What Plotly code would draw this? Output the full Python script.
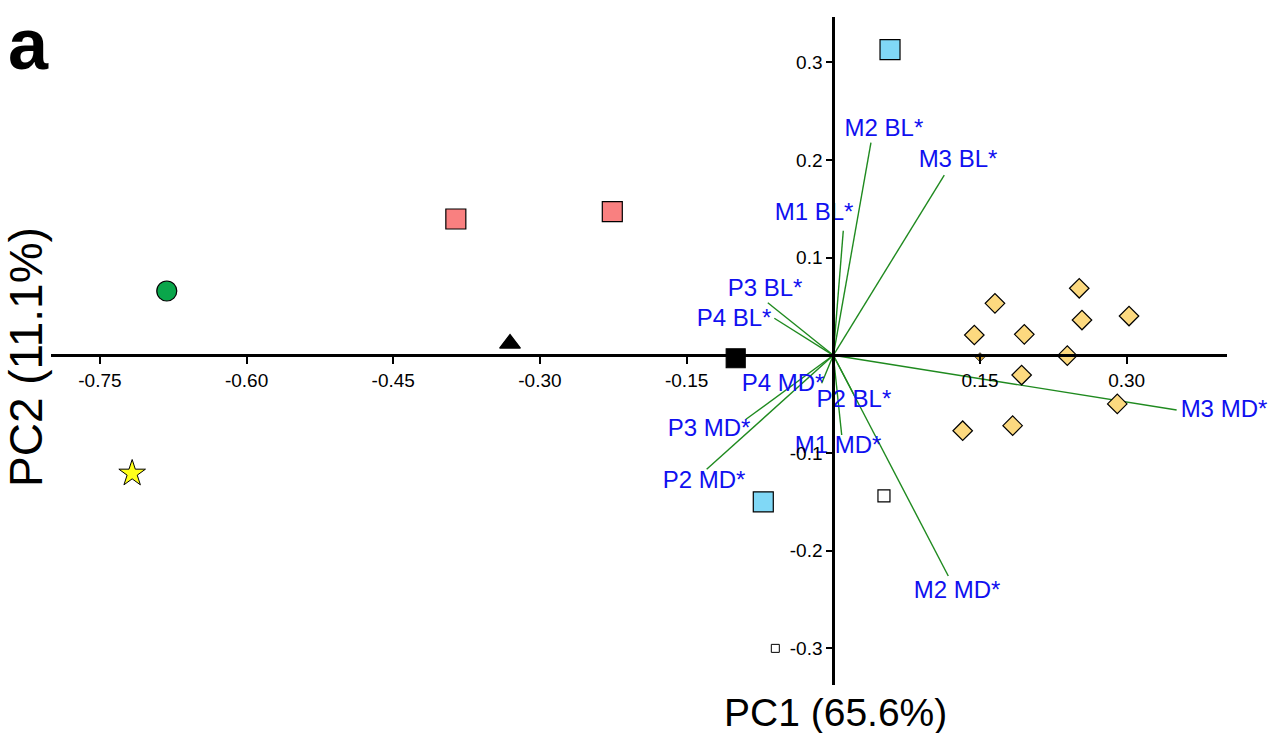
import plotly.graph_objects as go

# ---- data ----
blue_x = [0.058, -0.0716]
blue_y = [0.313, -0.150]
red_x = [-0.386, -0.226]
red_y = [0.1395, 0.147]
white_x = [0.0518]
white_y = [-0.144]
tiny_white_x = [-0.0593]
tiny_white_y = [-0.300]
tri_x = [-0.3306]
tri_y = [0.012]
black_sq_x = [-0.0998]
black_sq_y = [-0.003]
circle_x = [-0.6816]
circle_y = [0.0658]
star_x = [-0.717]
star_y = [-0.121]
diamond_x = [0.1653, 0.2515, 0.1442, 0.1953, 0.2543, 0.3024, 0.2393, 0.1926, 0.2904, 0.1323, 0.1834]
diamond_y = [0.0532, 0.0686, 0.0208, 0.0215, 0.0361, 0.0402, -0.0004, -0.0202, -0.0498, -0.0772, -0.072]
small_diamond_x = [0.150]
small_diamond_y = [-0.002]

vec_names = ["M2 BL*", "M3 BL*", "M1 BL*", "P3 BL*", "P4 BL*", "P4 MD*",
             "P2 BL*", "P3 MD*", "M1 MD*", "P2 MD*", "M2 MD*", "M3 MD*"]
vec_x = [0.0385, 0.1135, 0.0102, -0.067, -0.0603, -0.0119,
         0.0235, -0.0893, 0.0086, -0.1295, 0.1176, 0.3511]
vec_y = [0.2176, 0.1845, 0.1275, 0.0538, 0.0379, -0.0287,
         -0.045, -0.0655, -0.0816, -0.1167, -0.2259, -0.056]
label_x = [0.0518, 0.1275, -0.0197, -0.0698, -0.1015, -0.0514,
           0.0211, -0.1271, 0.0048, -0.1322, 0.1265, 0.3995]
label_y = [0.2306, 0.1989, 0.1446, 0.0668, 0.0361, -0.0304,
           -0.0468, -0.0765, -0.0939, -0.1297, -0.2423, -0.057]

x_ticks = [-0.75, -0.60, -0.45, -0.30, -0.15, 0.15, 0.30]
x_ticktext = ["-0.75", "-0.60", "-0.45", "-0.30", "-0.15", "0.15", "0.30"]
y_ticks = [0.3, 0.2, 0.1, -0.1, -0.2, -0.3]
y_ticktext = ["0.3", "0.2", "0.1", "-0.1", "-0.2", "-0.3"]

x_range = [-0.800, 0.4026]
y_range = [-0.3375, 0.3463]

FONT = "Liberation Sans, Arial, Helvetica, sans-serif"

fig = go.Figure()

# vectors
lx, ly = [], []
for xe, ye in zip(vec_x, vec_y):
    lx += [0, xe, None]
    ly += [0, ye, None]
fig.add_trace(go.Scatter(x=lx, y=ly, mode="lines",
                         line=dict(color="#1f8a1f", width=1.4),
                         hoverinfo="skip", showlegend=False))

def pts(x, y, symbol, size, color, lw=1.2):
    fig.add_trace(go.Scatter(x=x, y=y, mode="markers", showlegend=False,
                             cliponaxis=False,
                             marker=dict(symbol=symbol, size=size, color=color,
                                         line=dict(color="black", width=lw))))

pts(diamond_x, diamond_y, "diamond", 15, "#fcd97f")
pts(small_diamond_x, small_diamond_y, "diamond", 7, "#d9a941", 0.8)
pts(blue_x, blue_y, "square", 20, "#80d8f6")
pts(red_x, red_y, "square", 20, "#f98080")
pts(white_x, white_y, "square", 12, "white")
pts(tiny_white_x, tiny_white_y, "square", 8, "white", 1)
pts(tri_x, tri_y, "triangle-up", 18, "black")
pts(black_sq_x, black_sq_y, "square", 19, "black")
pts(circle_x, circle_y, "circle", 20, "#0aa64b")
pts(star_x, star_y, "star", 20, "#ffff1a", 1)

# labels
fig.add_trace(go.Scatter(x=label_x, y=label_y, mode="text", text=vec_names,
                         textposition="middle center", cliponaxis=False,
                         textfont=dict(family=FONT, size=24, color="#1010f0"),
                         hoverinfo="skip", showlegend=False))

W, H = 1269, 733
ml, mr, mt, mb = 51, 42, 17, 48
xpos = (0 - y_range[0]) / (y_range[1] - y_range[0])
ypos = (0 - x_range[0]) / (x_range[1] - x_range[0])

pw = W - ml - mr
ph = H - mt - mb
def px2paper(px, py):
    return (px - ml) / pw, ((H - mb) - py) / ph

t1x, t1y = px2paper(835, 712)
t2x, t2y = px2paper(26, 357)
t3x, t3y = px2paper(6, 2)

fig.update_layout(
    width=W, height=H,
    margin=dict(l=ml, r=mr, t=mt, b=mb, autoexpand=False),
    paper_bgcolor="white", plot_bgcolor="white",
    showlegend=False,
    xaxis=dict(range=x_range, domain=[0, 1], anchor="free", position=xpos,
               showgrid=False, zeroline=False, showline=True, automargin=False,
               linecolor="black", linewidth=3,
               ticks="outside", ticklen=7, tickwidth=2, tickcolor="black",
               tickvals=x_ticks, ticktext=x_ticktext,
               tickfont=dict(family=FONT, size=19, color="black")),
    yaxis=dict(range=y_range, domain=[0, 1], anchor="free", position=ypos,
               showgrid=False, zeroline=False, showline=True, automargin=False,
               linecolor="black", linewidth=3,
               ticks="outside", ticklen=6, tickwidth=2, tickcolor="black",
               tickvals=y_ticks, ticktext=y_ticktext,
               tickfont=dict(family=FONT, size=19, color="black")),
    annotations=[
        dict(text="PC1 (65.6%)", x=t1x, y=t1y, xref="paper", yref="paper",
             showarrow=False, font=dict(family=FONT, size=39, color="black"),
             xanchor="center", yanchor="middle"),
        dict(text="PC2 (11.1%)", x=t2x, y=t2y, xref="paper", yref="paper",
             showarrow=False, textangle=-90,
             font=dict(family=FONT, size=46, color="black"),
             xanchor="center", yanchor="middle"),
        dict(text="<b>a</b>", x=t3x, y=t3y, xref="paper", yref="paper",
             showarrow=False, font=dict(family=FONT, size=72, color="black"),
             xanchor="left", yanchor="top"),
    ],
)

fig.write_html("out.html", config={"displayModeBar": False},
               post_script="document.body.style.margin='0';document.body.style.padding='0';")
